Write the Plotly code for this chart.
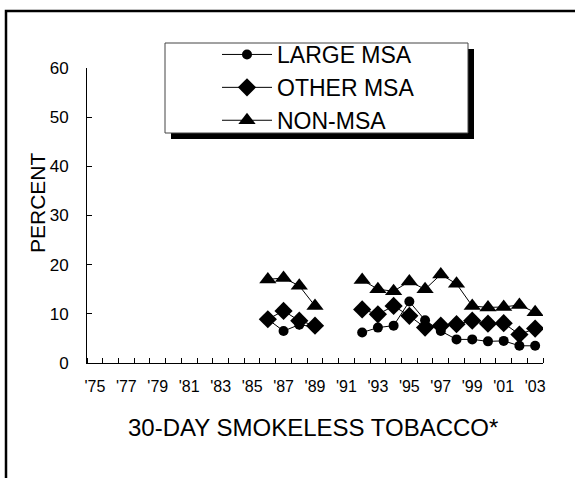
import plotly.graph_objects as go

# Data (percent); None = no survey point
years = list(range(1975, 2004))
largeMSA = [None]*11 + [8.9, 6.5, 7.8, 7.3, None, None,
                        6.2, 7.2, 7.6, 12.5, 8.7, 6.5, 4.8, 4.8, 4.4, 4.5, 3.5, 3.5]
otherMSA = [None]*11 + [8.9, 10.6, 8.6, 7.6, None, None,
                        10.9, 9.9, 11.6, 9.6, 7.2, 7.6, 7.9, 8.6, 8.0, 8.1, 5.8, 7.0]
nonMSA = [None]*11 + [17.0, 17.3, 15.7, 11.6, None, None,
                      16.9, 15.0, 14.6, 16.6, 15.0, 18.0, 16.1, 11.6, 11.3, 11.4, 11.8, 10.3]
tickYears = list(range(1975, 2004, 2))
tickText = ["'" + str(y)[2:] for y in tickYears]

# Plot area in pixels (used to turn pixel spots into paper coords)
L, R, T, B = 87, 543, 68, 363
W, H = 575, 478
def px(x):
    return (x - L) / (R - L)
def py_(y):
    return (B - y) / (B - T)

fontFam = "Liberation Sans, Arial, sans-serif"

fig = go.Figure()
series = [("LARGE MSA", largeMSA, "circle", 10),
          ("OTHER MSA", otherMSA, "diamond", 14),
          ("NON-MSA", nonMSA, "triangle-up", 15)]
for name, vals, sym, sz in series:
    fig.add_trace(go.Scatter(x=years, y=vals, name=name, legendgroup=name,
                             mode="lines+markers", connectgaps=False,
                             line=dict(color="black", width=1),
                             marker=dict(symbol=sym, size=sz, color="black")))

fig.update_layout(
    width=W, height=H,
    margin=dict(l=L, r=W - R, t=T, b=H - B),
    paper_bgcolor="white", plot_bgcolor="white",
    font=dict(family=fontFam, color="black", size=16),
    showlegend=True,
    legend=dict(x=px(217), y=py_(33), xanchor="left", yanchor="top",
                bgcolor="rgba(0,0,0,0)", borderwidth=0,
                font=dict(size=23), traceorder="grouped", tracegroupgap=0,
                itemwidth=50),
)

fig.update_xaxes(range=[1974.5, 2003.5], tickvals=tickYears, ticktext=tickText,
                 ticks="", showline=True, linecolor="black", linewidth=1,
                 showgrid=False, zeroline=False, tickfont=dict(size=16),
                 ticklabelstandoff=9,
                 minor=dict(tick0=1974.5, dtick=1, ticks="inside", ticklen=5,
                            tickcolor="black", showgrid=False))
fig.update_yaxes(range=[0, 60], dtick=10, ticks="inside", ticklen=5,
                 tickcolor="black", showline=True, linecolor="black", linewidth=1,
                 showgrid=False, zeroline=False, tickfont=dict(size=17),
                 ticklabelstandoff=14)

# Titles
fig.add_annotation(text="30-DAY SMOKELESS TOBACCO*", xref="paper", yref="paper",
                   x=px(313), y=py_(427), xanchor="center", yanchor="middle",
                   showarrow=False, font=dict(size=24))
fig.add_annotation(text="PERCENT", xref="paper", yref="paper", textangle=-90,
                   x=px(37), y=py_(203), xanchor="center", yanchor="middle",
                   showarrow=False, font=dict(size=21))

# Legend box with shadow, outer frame
fig.add_shape(type="rect", xref="paper", yref="paper", layer="above",
              x0=px(171), x1=px(474), y0=py_(139), y1=py_(49),
              fillcolor="black", line=dict(width=0))
fig.add_shape(type="rect", xref="paper", yref="paper", layer="above",
              x0=px(165), x1=px(468), y0=py_(133), y1=py_(43),
              fillcolor="white", line=dict(color="#444", width=1))
fig.add_shape(type="rect", xref="paper", yref="paper",
              x0=px(6), x1=px(590), y0=py_(495), y1=py_(11),
              line=dict(color="black", width=2.5))

fig.write_html("out.html", config={"displayModeBar": False},
               post_script="document.body.style.margin='0';")
